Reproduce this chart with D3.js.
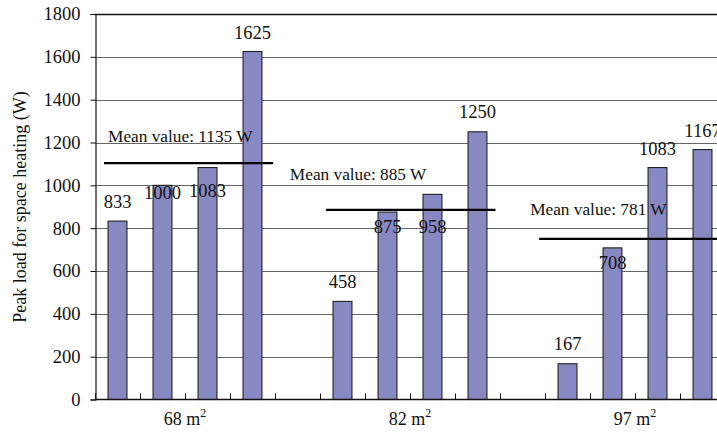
<!DOCTYPE html>
<html>
<head>
<meta charset="utf-8">
<script src="https://cdn.jsdelivr.net/npm/d3@7/dist/d3.min.js"></script>
<style>
  html, body { margin: 0; padding: 0; background: #fff; }
  svg { display: block; }
</style>
</head>
<body>
<svg id="chart" width="717" height="433"></svg>
<script>
// ---- data ----
const groups = ["68", "82", "97"];              // floor area, m²
const loads68 = [833, 1000, 1083, 1625];
const loads82 = [458, 875, 958, 1250];
const loads97 = [167, 708, 1083, 1167];
const meanValues = [1135, 885, 781];           // labelled mean values (W)
const meanLineLevels = [1104, 885, 750];       // level where the mean line is drawn
const yTicks = [0, 200, 400, 600, 800, 1000, 1200, 1400, 1600, 1800];
const yTitle = "Peak load for space heating (W)";

// ---- layout (not data) ----
const FONT = "'Liberation Serif'";
const labelDy = [[-13, 14, 29, -12], [-13, 21, 39, -14], [-14, 21, -13, -13]];
const meanLineStart = [0.2, 5.13, 9.87];      // in slot units
const meanLineEnd = [3.96, 8.9, 14];
const meanLabelX = [0.29, 4.33, 9.67];
const meanLabelLevel = [1202, 1025, 861];

const series = [loads68, loads82, loads97];

const slots = [];
series.forEach((vals, gi) => {
  vals.forEach((v, bi) => slots.push({ key: `g${gi}b${bi}`, g: gi, b: bi, v }));
  if (gi < series.length - 1) slots.push({ key: `gap${gi}`, g: gi, b: -1, v: null });
});

const svg = d3.select("#chart").style("font-family", FONT);
const mLeft = 95, mTop = 14, mBottom = 399.5, nSlots = slots.length;
const slotW = 45;
const mRight = mLeft + nSlots * slotW;

const x = d3.scaleBand().domain(slots.map(d => d.key)).range([mLeft, mRight])
  .paddingInner(0.58).paddingOuter(0.29);
const xs = d3.scaleLinear().domain([0, nSlots]).range([mLeft, mRight]);
const y = d3.scaleLinear().domain([0, 1800]).range([mBottom, mTop]);

// gridlines
svg.append("g").selectAll("line").data(yTicks.filter(t => t > 0)).join("line")
  .attr("x1", mLeft).attr("x2", 717)
  .attr("y1", d => Math.round(y(d)) + 0.5).attr("y2", d => Math.round(y(d)) + 0.5)
  .attr("stroke", d => d === 1800 ? "#111" : "#666")
  .attr("stroke-width", d => d === 1800 ? 1.3 : 1.2);

// y axis
const yAxis = d3.axisLeft(y).tickValues(yTicks).tickSize(5).tickPadding(10).tickFormat(d3.format("d"));
const gy = svg.append("g").attr("transform", `translate(${mLeft + 0.5},0)`).call(yAxis);
gy.attr("font-family", null).attr("font-size", null);
gy.select(".domain").attr("stroke", "#111").attr("stroke-width", 1.2);
gy.selectAll(".tick line").attr("stroke", "#111");
gy.selectAll(".tick text").style("font-family", FONT).style("font-size", "18.5px").attr("fill", "#111");

// bars
const barData = slots.filter(d => d.v !== null);
svg.append("g").selectAll("rect").data(barData).join("rect")
  .attr("x", d => x(d.key))
  .attr("width", x.bandwidth())
  .attr("y", d => y(d.v))
  .attr("height", d => y(0) - y(d.v))
  .attr("fill", "#8888c2")
  .attr("stroke", "#222")
  .attr("stroke-width", 1.1);

// x axis line + ticks at slot boundaries
svg.append("line").attr("x1", mLeft).attr("x2", 717)
  .attr("y1", mBottom).attr("y2", mBottom).attr("stroke", "#111").attr("stroke-width", 1.4);
svg.append("g").selectAll("line").data(d3.range(0, nSlots + 1)).join("line")
  .attr("x1", d => Math.round(xs(d)) + 0.5).attr("x2", d => Math.round(xs(d)) + 0.5)
  .attr("y1", mBottom).attr("y2", mBottom - 6)
  .attr("stroke", "#111").attr("stroke-width", 1);

// category labels
const catG = svg.append("g");
groups.forEach((g, gi) => {
  const first = slots.findIndex(s => s.g === gi && s.b === 0);
  const cx = xs(first + 2);
  const t = catG.append("text").attr("x", cx).attr("y", 425)
    .attr("text-anchor", "middle").style("font-family", FONT).style("font-size", "18px").attr("fill", "#111");
  t.append("tspan").text(g + " m");
  t.append("tspan").attr("dy", -8).style("font-size", "12px").text("2");
});

// value labels
svg.append("g").selectAll("text").data(barData).join("text")
  .attr("x", d => x(d.key) + x.bandwidth() / 2)
  .attr("y", d => y(d.v) + labelDy[d.g][d.b])
  .attr("text-anchor", "middle")
  .style("font-family", FONT).style("font-size", "18.5px").attr("fill", "#111")
  .text(d => d.v);

// mean lines
svg.append("g").selectAll("line").data(meanLineLevels).join("line")
  .attr("x1", (d, i) => xs(meanLineStart[i]))
  .attr("x2", (d, i) => xs(meanLineEnd[i]))
  .attr("y1", d => y(d)).attr("y2", d => y(d))
  .attr("stroke", "#000").attr("stroke-width", 2.2);

// mean labels
svg.append("g").selectAll("text").data(meanValues).join("text")
  .attr("x", (d, i) => xs(meanLabelX[i]))
  .attr("y", (d, i) => y(meanLabelLevel[i]))
  .style("font-family", FONT).style("font-size", "17.3px").attr("fill", "#111")
  .text(d => `Mean value: ${d} W`);

// y title
svg.append("text")
  .attr("transform", `translate(26,207) rotate(-90)`)
  .attr("text-anchor", "middle")
  .style("font-family", FONT).style("font-size", "18px").attr("fill", "#111")
  .text(yTitle);
</script>
</body>
</html>
